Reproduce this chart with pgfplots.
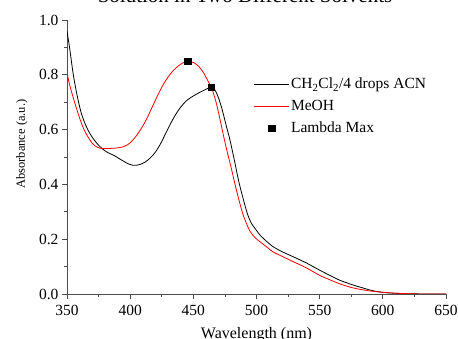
\documentclass[border=0pt]{standalone}
\usepackage{fontspec}
\setmainfont{Liberation Serif}
\usepackage{pgfplots}
\pgfplotsset{compat=1.18}
\pgfplotsset{
  linelegend/.style={legend image code/.code={\draw[##1] (0bp,0bp) -- (35bp,0bp);}},
  marklegend/.style={legend image code/.code={\draw[##1] plot coordinates {(18bp,0bp)};}},
}
\begin{document}
\begin{tikzpicture}
\begin{axis}[
  scale only axis, width=379bp, height=274bp,
  at={(0,0)}, anchor=origin,
  xmin=350, xmax=650, ymin=0, ymax=1.0,
  axis x line*=bottom, axis y line*=left,
  axis line style={black!70, line width=0.9bp},
  every tick/.style={black!70, line width=0.8bp},
  tick align=outside,
  major tick length=5bp, minor tick length=3bp,
  xtick={350,400,...,650}, ytick={0,0.2,0.4,0.6,0.8,1.0},
  minor x tick num=1, minor y tick num=1,
  /pgf/number format/assume math mode=true,
  yticklabel style={/pgf/number format/.cd, fixed, fixed zerofill, precision=1},
  xticklabel style={/pgf/number format/.cd, fixed, precision=0, 1000 sep={}, /tikz/yshift=-3bp},
  tick label style={font=\fontsize{15.5bp}{18bp}\selectfont},
  xlabel={Wavelength (nm)},
  ylabel={Absorbance (a.u.)},
  xlabel style={at={(axis description cs:0.5,-0.1606)}, anchor=base, font=\fontsize{16bp}{19bp}\selectfont},
  ylabel style={at={(axis description cs:-0.111,0.547)}, anchor=base, font=\fontsize{12.5bp}{15bp}\selectfont},
  title={Solution in Two Different Solvents},
  title style={at={(axis description cs:0.4697,1.0438)}, anchor=base, yshift=0pt, font=\fontsize{21bp}{25bp}\selectfont},
  legend style={at={(axis description cs:0.483,0.803)}, anchor=north west, draw=none, fill=none,
    font=\fontsize{15.5bp}{18bp}\selectfont, row sep=6bp},
  legend cell align=left,
]
\addplot[black, line width=0.8bp, smooth, linelegend] coordinates {
(350,0.96) (352,0.90) (355,0.80) (358,0.725) (361,0.665) (364,0.625) (367,0.595) (370,0.572)
(374,0.548) (378,0.530) (382,0.517) (387,0.506) (391,0.495) (395,0.484) (399,0.474)
(402,0.470) (405,0.470) (408,0.473) (412,0.482) (416,0.497) (420,0.518) (424,0.548)
(428,0.585) (432,0.622) (436,0.655) (440,0.682) (444,0.703) (448,0.717) (452,0.728)
(456,0.738) (460,0.747) (464,0.755) (467,0.745) (470,0.715) (473,0.670) (476,0.615)
(479,0.562) (483,0.477) (486,0.41) (490,0.338) (493,0.29) (496,0.258) (500,0.232)
(503,0.214) (508,0.192) (513,0.173) (520,0.155) (530,0.134) (540,0.112) (550,0.087)
(558,0.068) (566,0.050) (572,0.040) (577,0.032) (585,0.021) (592,0.012) (600,0.006)
(608,0.003) (620,0.001) (635,0.0) (650,0.0)
};
\addlegendentry{CH\textsubscript{2}Cl\textsubscript{2}/4 drops ACN}
\addplot[red, line width=0.8bp, smooth, linelegend] coordinates {
(350,0.81) (352,0.765) (356,0.70) (360,0.642) (363,0.605) (366,0.578) (370,0.550)
(373,0.538) (376,0.532) (381,0.531) (387,0.532) (391,0.534) (395,0.538) (398,0.545)
(401,0.556) (405,0.578) (410,0.613) (414,0.648) (418,0.688) (422,0.727) (426,0.763)
(430,0.792) (434,0.815) (438,0.832) (442,0.844) (446,0.849) (450,0.845) (454,0.832)
(458,0.808) (462,0.774) (465,0.745) (468,0.700) (471,0.640) (474,0.575) (477,0.515)
(480,0.460) (483,0.40) (486,0.345) (489,0.295) (492,0.258) (495,0.228) (499,0.205)
(503,0.190) (508,0.172) (513,0.154) (520,0.138) (530,0.116) (540,0.094) (550,0.068)
(558,0.052) (566,0.037) (574,0.025) (582,0.017) (590,0.011) (598,0.007) (606,0.004)
(615,0.002) (630,0.0) (650,0.0)
};
\addlegendentry{MeOH}
\addplot[only marks, mark=square*, mark size=3.3bp, black, marklegend] coordinates {
(445.5,0.850) (464,0.755)
};
\addlegendentry{Lambda Max}
\end{axis}
\pgfresetboundingbox
\path[use as bounding box] (-67bp,-45bp) rectangle (391bp,294bp);
\end{tikzpicture}
\end{document}
